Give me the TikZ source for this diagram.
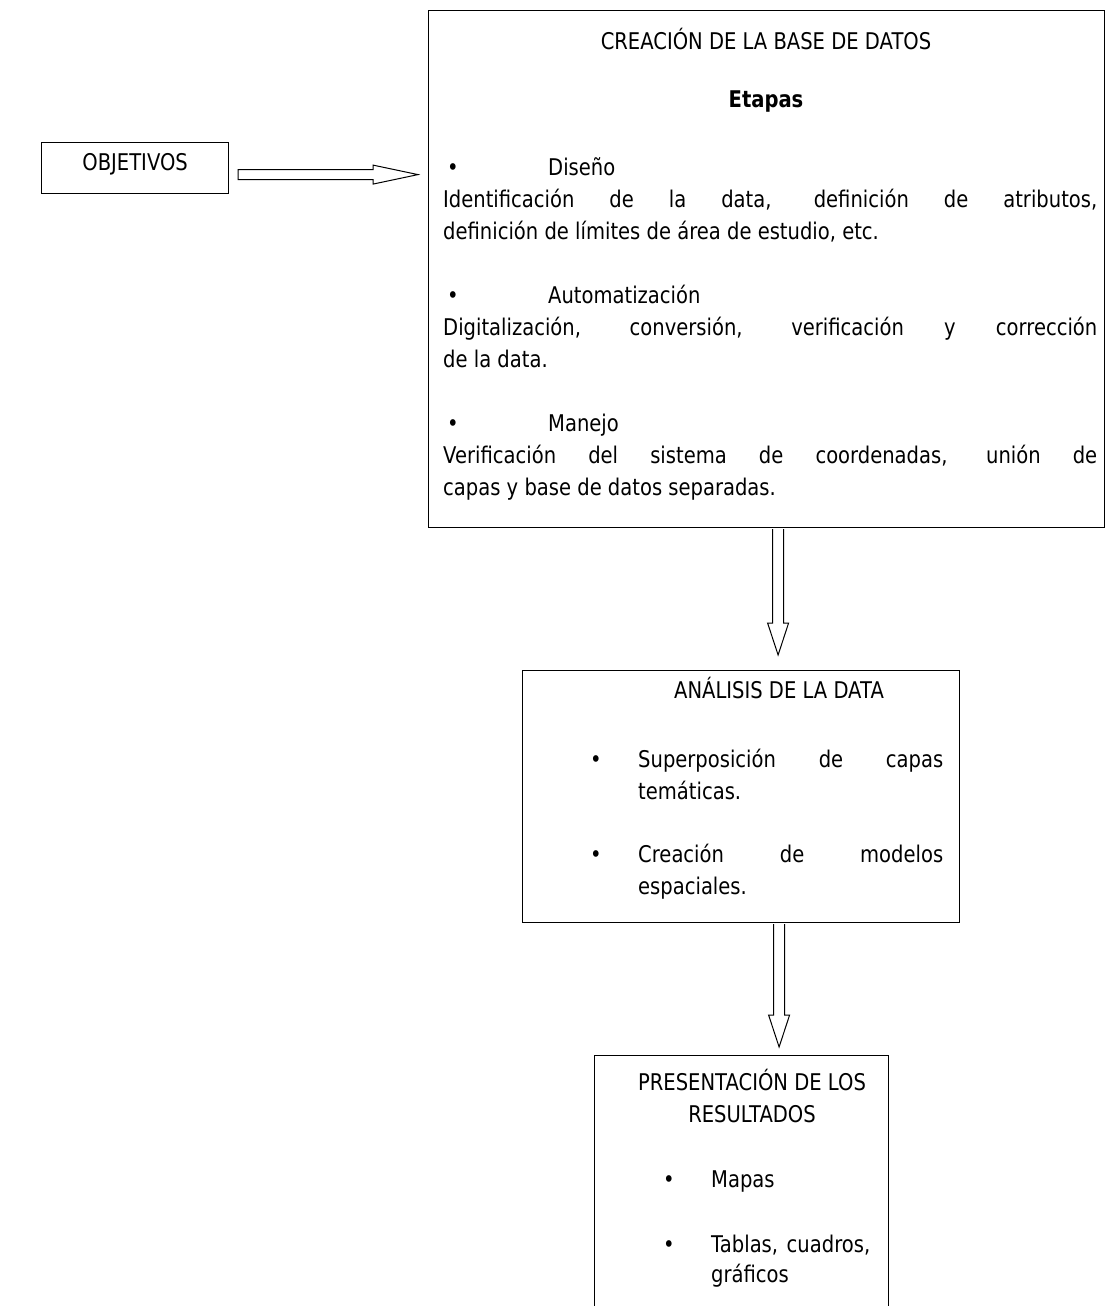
\documentclass[tikz,border=0pt]{standalone}
\usepackage{fontspec}
\setmainfont{DejaVu Sans}[FakeStretch=0.85]
\usetikzlibrary{calc}
\tikzset{
  box/.style={draw, line width=1.2pt, inner sep=0pt, anchor=north west},
  txt/.style={inner sep=0pt, font=\fontsize{23}{27}\selectfont},
  blk/.style={draw, line width=1pt, fill=white, line join=miter},
}
\newcommand\blockR[2]{%
  \draw[blk] ($(#1)+(0,-5)$) -- ($(#2)+(-45,-5)$) -- ($(#2)+(-45,-9.5)$) -- (#2)
    -- ($(#2)+(-45,9.5)$) -- ($(#2)+(-45,5)$) -- ($(#1)+(0,5)$) -- cycle;}
\newcommand\blockD[2]{%
  \draw[blk] ($(#1)+(-5.5,0)$) -- ($(#2)+(-5.5,-32)$) -- ($(#2)+(-10.5,-32)$) -- (#2)
    -- ($(#2)+(10.5,-32)$) -- ($(#2)+(5.5,-32)$) -- ($(#1)+(5.5,0)$);}
\begin{document}
\begin{tikzpicture}[x=1pt,y=-1pt]
\useasboundingbox[fill=white] (0,0) rectangle (1109,1306);
% boxes
\node[box, minimum width=187pt, minimum height=51pt] (obj) at (41,142) {};
\node[box, minimum width=676pt, minimum height=517pt] (big) at (428,10) {};
\node[box, minimum width=437pt, minimum height=252pt] (ana) at (522,670) {};
\node[box, minimum width=294pt, minimum height=320pt] (pres) at (594,1055) {};
% arrows
\coordinate (r1) at ($(obj.east)+(9,6.5)$);
\coordinate (r2) at ($(big.west |- r1)+(-10,0)$);
\blockR{r1}{r2}
\coordinate (d1) at ($(big.south)+(11.5,1)$);
\coordinate (d2) at ($(d1 |- ana.north)+(0,-15)$);
\blockD{d1}{d2}
\coordinate (d3) at ($(ana.south)+(38,1)$);
\coordinate (d4) at ($(d3 |- pres.north)+(0,-8)$);
\blockD{d3}{d4}
% texts
\node[txt, anchor=mid] (tobj) at (obj.center) {OBJETIVOS};
\node[txt, anchor=mid] (tb1) at (766,47) {CREACIÓN DE LA BASE DE DATOS};
\node[txt, anchor=mid] (tb2) at (766,105) {\textbf{Etapas}};
\node[txt, anchor=mid] (bu1) at (453,173) {\textbullet};
\node[txt, anchor=mid west] (tb3) at (548,173) {Diseño};
\node[txt, anchor=mid west] (tb4) at (443,205) {\makebox[654pt][s]{Identificación de la data, definición de atributos,}};
\node[txt, anchor=mid west] (tb5) at (443,237) {definición de límites de área de estudio, etc.};
\node[txt, anchor=mid] (bu2) at (453,301) {\textbullet};
\node[txt, anchor=mid west] (tb6) at (548,301) {Automatización};
\node[txt, anchor=mid west] (tb7) at (443,333) {\makebox[654pt][s]{Digitalización, conversión, verificación y corrección}};
\node[txt, anchor=mid west] (tb8) at (443,365) {de la data.};
\node[txt, anchor=mid] (bu3) at (453,429) {\textbullet};
\node[txt, anchor=mid west] (tb9) at (548,429) {Manejo};
\node[txt, anchor=mid west] (tb10) at (443,461) {\makebox[654pt][s]{Verificación del sistema de coordenadas, unión de}};
\node[txt, anchor=mid west] (tb11) at (443,493) {capas y base de datos separadas.};
% analysis
\node[txt, anchor=mid] (ta1) at (779,696) {ANÁLISIS DE LA DATA};
\node[txt, anchor=mid] (bu4) at (596,765) {\textbullet};
\node[txt, anchor=mid west] (ta2) at (638,765) {\makebox[305pt][s]{Superposición de capas}};
\node[txt, anchor=mid west] (ta3) at (638,797) {temáticas.};
\node[txt, anchor=mid] (bu5) at (596,860) {\textbullet};
\node[txt, anchor=mid west] (ta4) at (638,860) {\makebox[305pt][s]{Creación de modelos}};
\node[txt, anchor=mid west] (ta5) at (638,892) {espaciales.};
% presentation
\node[txt, anchor=mid] (tp1) at (752,1088) {PRESENTACIÓN DE LOS};
\node[txt, anchor=mid] (tp2) at (752,1120) {RESULTADOS};
\node[txt, anchor=mid] (bu6) at (669,1185) {\textbullet};
\node[txt, anchor=mid west] (tp3) at (711,1185) {Mapas};
\node[txt, anchor=mid] (bu7) at (669,1250) {\textbullet};
\node[txt, anchor=mid west] (tp4) at (711,1250) {\makebox[159pt][s]{Tablas, cuadros,}};
\node[txt, anchor=mid west] (tp5) at (711,1280) {gráficos};
\end{tikzpicture}
\end{document}
